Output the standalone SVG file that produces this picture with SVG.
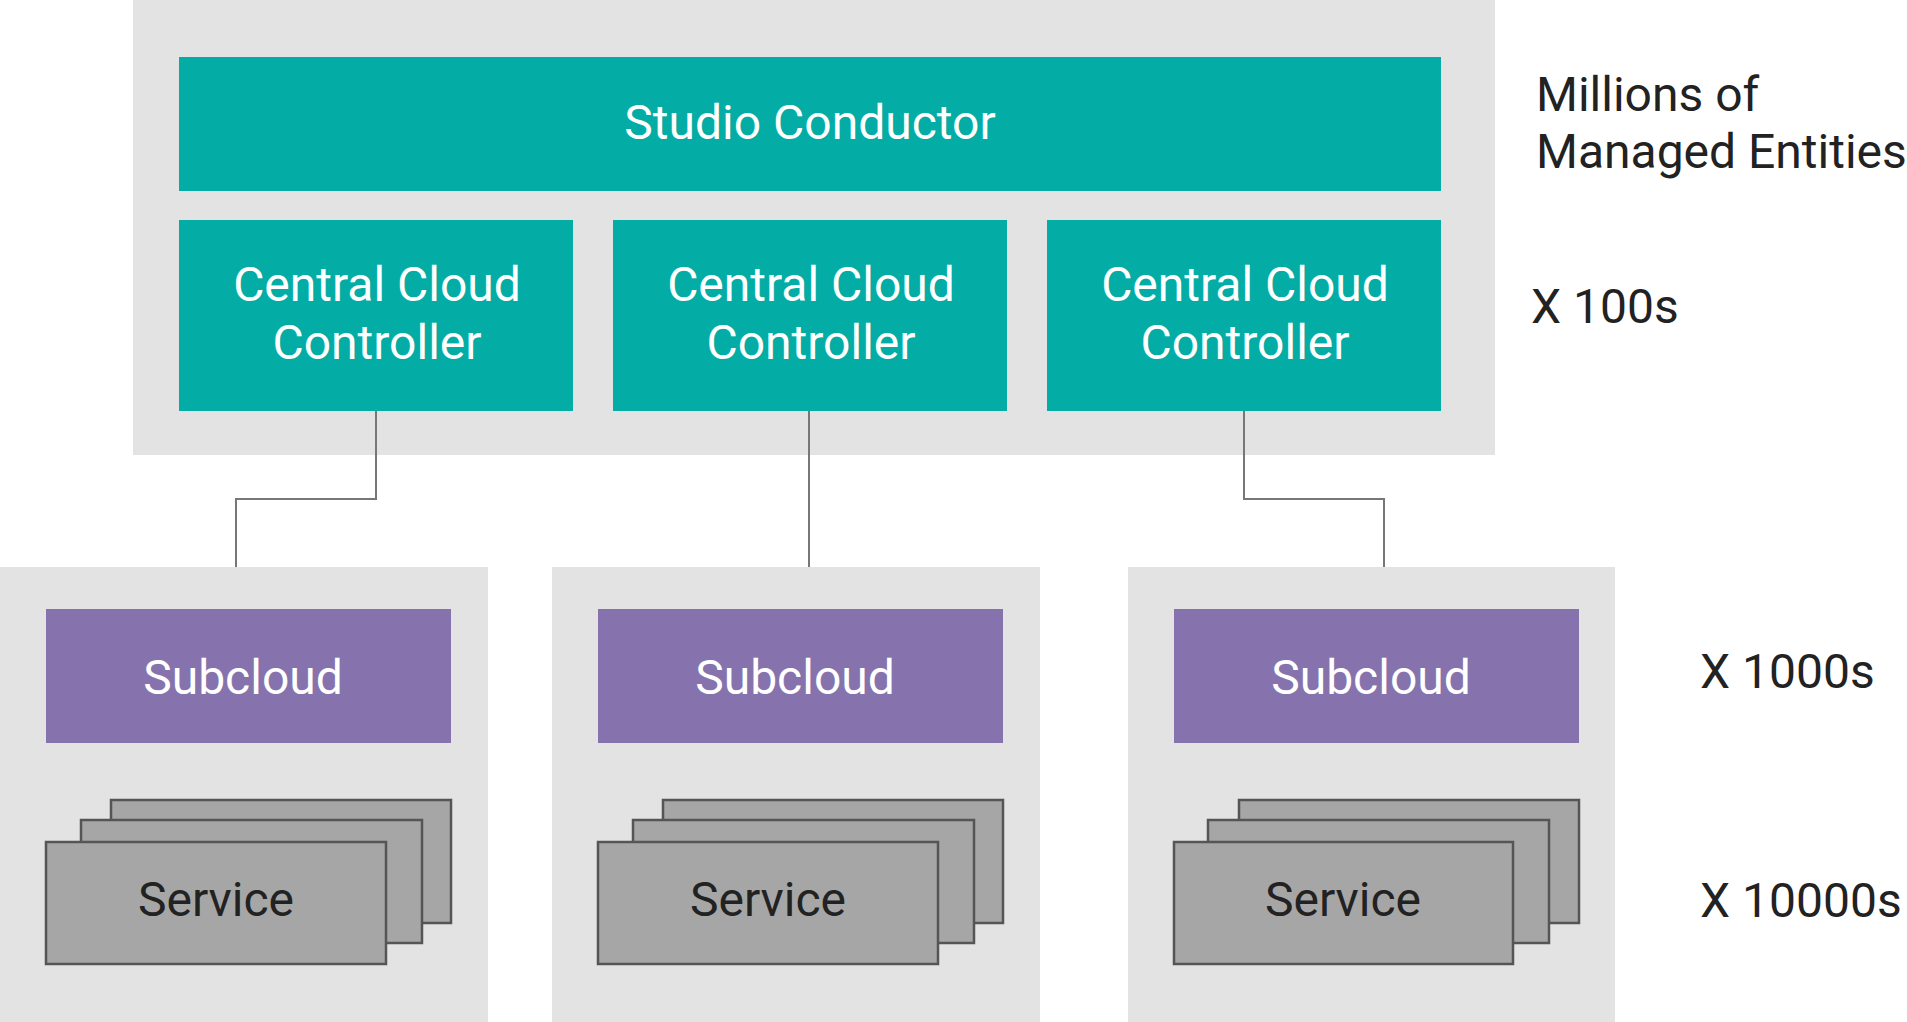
<svg xmlns="http://www.w3.org/2000/svg" width="1907" height="1022" viewBox="0 0 1907 1022">
<style>
.bg{fill:#e3e3e3}
.teal{fill:#03ada5}
.purple{fill:#8673ad}
.svc{fill:#a6a6a6;stroke:#555;stroke-width:2.5}
.t{font-family:Roboto,"Liberation Sans",sans-serif;font-size:48px;text-anchor:middle}
.w{fill:#fff}
.d{fill:#222}
.lbl{font-family:Roboto,"Liberation Sans",sans-serif;font-size:48px;fill:#222}
.conn{fill:none;stroke:#777;stroke-width:2}
</style>
<rect class="bg" x="133" y="0" width="1362" height="455"/>
<rect class="bg" x="0" y="567" width="488" height="455"/>
<rect class="bg" x="552" y="567" width="488" height="455"/>
<rect class="bg" x="1128" y="567" width="487" height="455"/>
<g id="connectors">
<polyline class="conn" points="376,411 376,499 236,499 236,567"/>
<polyline class="conn" points="809,411 809,567"/>
<polyline class="conn" points="1244,411 1244,499 1384,499 1384,567"/>
</g>
<g id="studio-conductor">
<rect class="teal" x="179" y="57" width="1262" height="134"/>
<text class="t w" x="810" y="139">Studio Conductor</text>
</g>
<g id="ccc1">
<rect class="teal" x="179" y="220" width="394" height="191"/>
<text class="t w" x="377" y="301">Central Cloud</text>
<text class="t w" x="377" y="359">Controller</text>
</g>
<g id="ccc2">
<rect class="teal" x="613" y="220" width="394" height="191"/>
<text class="t w" x="811" y="301">Central Cloud</text>
<text class="t w" x="811" y="359">Controller</text>
</g>
<g id="ccc3">
<rect class="teal" x="1047" y="220" width="394" height="191"/>
<text class="t w" x="1245" y="301">Central Cloud</text>
<text class="t w" x="1245" y="359">Controller</text>
</g>
<g id="subcloud1">
<rect class="purple" x="46" y="609" width="405" height="134"/>
<text class="t w" x="243" y="694">Subcloud</text>
</g>
<g id="subcloud2">
<rect class="purple" x="598" y="609" width="405" height="134"/>
<text class="t w" x="795" y="694">Subcloud</text>
</g>
<g id="subcloud3">
<rect class="purple" x="1174" y="609" width="405" height="134"/>
<text class="t w" x="1371" y="694">Subcloud</text>
</g>
<g id="service1">
<rect class="svc" x="111" y="800" width="340" height="123"/>
<rect class="svc" x="81" y="820" width="341" height="123"/>
<rect class="svc" x="46" y="842" width="340" height="122"/>
<text class="t d" x="216" y="916">Service</text>
</g>
<g id="service2">
<rect class="svc" x="663" y="800" width="340" height="123"/>
<rect class="svc" x="633" y="820" width="341" height="123"/>
<rect class="svc" x="598" y="842" width="340" height="122"/>
<text class="t d" x="768" y="916">Service</text>
</g>
<g id="service3">
<rect class="svc" x="1239" y="800" width="340" height="123"/>
<rect class="svc" x="1208" y="820" width="341" height="123"/>
<rect class="svc" x="1174" y="842" width="339" height="122"/>
<text class="t d" x="1343" y="916">Service</text>
</g>
<g id="labels">
<text class="lbl" x="1536" y="111">Millions of</text>
<text class="lbl" x="1536" y="168">Managed Entities</text>
<text class="lbl" x="1531" y="323">X 100s</text>
<text class="lbl" x="1700" y="688">X 1000s</text>
<text class="lbl" x="1700" y="917">X 10000s</text>
</g>
</svg>
